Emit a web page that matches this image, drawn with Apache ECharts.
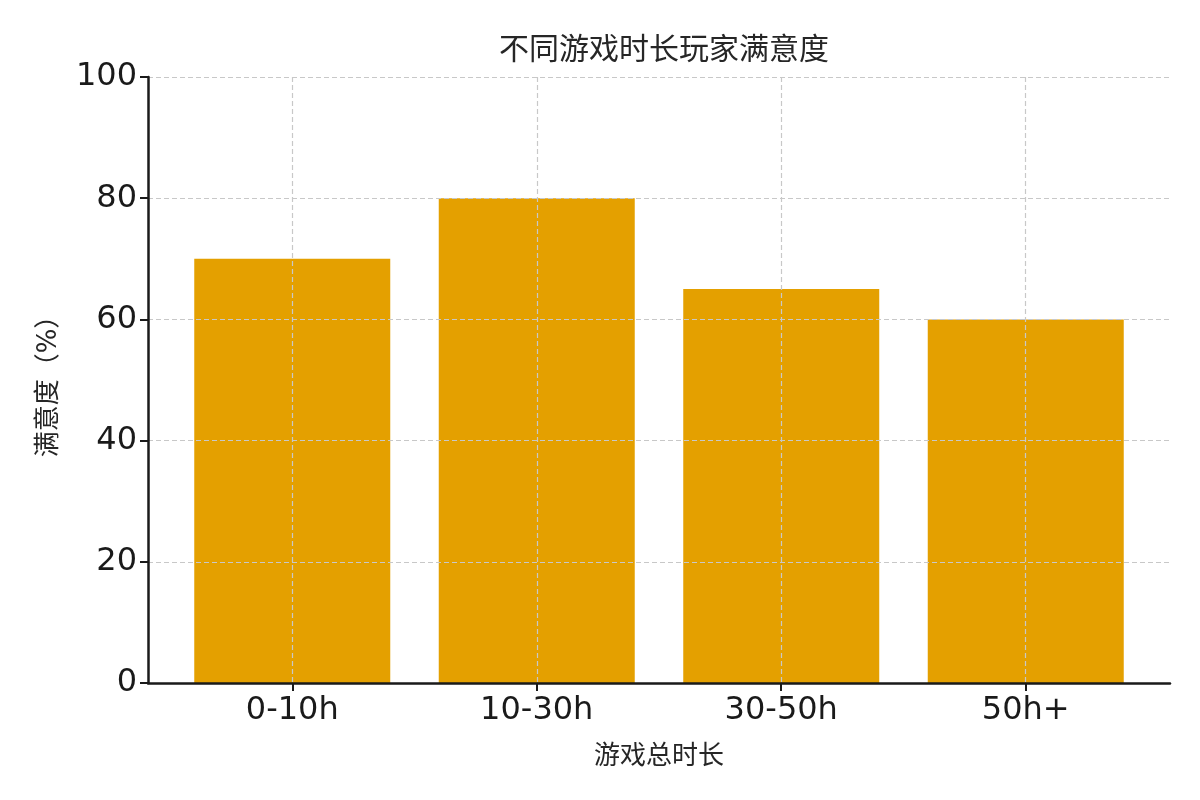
<!DOCTYPE html>
<html><head><meta charset="utf-8">
<script src="https://cdn.jsdelivr.net/npm/echarts@6/dist/echarts.min.js"></script>
<style>html,body{margin:0;padding:0;background:#fff}#c{width:1200px;height:800px}</style>
</head><body><div id="c"></div>
<script>
const titleText = '不同游戏时长玩家满意度';
const xName = '游戏总时长';
const yName = '满意度（%）';
const categories = ['0-10h', '10-30h', '30-50h', '50h+'];
const values = [70, 80, 65, 60];
const yTicks = [0, 20, 40, 60, 80, 100];

const font = 'DejaVu Sans, Noto Sans CJK SC, sans-serif';
const chart = echarts.init(document.getElementById('c'));
const positions = categories.map((_, i) => i);
chart.setOption({
  animation: false,
  backgroundColor: '#fff',
  title: { text: titleText, left: 659, top: 31, textAlign: 'center',
    textStyle: { fontFamily: font, fontSize: 30, fontWeight: 'normal', color: '#262626' } },
  grid: { left: 148, right: 30, top: 77, bottom: 117 },
  xAxis: {
    type: 'value', min: -0.59, max: 3.59, z: 5,
    name: xName, nameLocation: 'middle', nameGap: 61,
    nameTextStyle: { fontFamily: font, fontSize: 26, color: '#262626' },
    axisLine: { show: true, onZero: false, lineStyle: { color: '#1a1a1a', width: 2.5 } },
    axisTick: { show: true, customValues: positions, length: 8, inside: false, lineStyle: { color: '#1a1a1a', width: 2 } },
    axisLabel: { customValues: positions, formatter: v => categories[Math.round(v)] ?? '', margin: 12,
      fontFamily: font, fontSize: 32, color: '#1a1a1a' },
    splitLine: { show: true, lineStyle: { color: '#c8c8c8', type: [5, 3], width: 1.2 } }
  },
  yAxis: {
    type: 'value', min: 0, max: 100, interval: 20, z: 5,
    name: yName, nameLocation: 'middle', nameGap: 86, nameRotate: 90,
    nameTextStyle: { fontFamily: font, fontSize: 26, color: '#262626' },
    axisLine: { show: true, onZero: false, lineStyle: { color: '#1a1a1a', width: 2.5 } },
    axisTick: { show: true, length: 8, lineStyle: { color: '#1a1a1a', width: 2 } },
    axisLabel: { formatter: v => yTicks.includes(v) ? String(v) : '', margin: 11, padding: [7, 0, 0, 0],
      fontFamily: font, fontSize: 32, color: '#1a1a1a' },
    splitLine: { show: true, lineStyle: { color: '#c8c8c8', type: [5, 3], width: 1.2 } }
  },
  series: [{
    type: 'bar', barWidth: 196, z: 2,
    itemStyle: { color: '#E4A000' },
    data: values.map((v, i) => [positions[i], v])
  }]
});
</script></body></html>
